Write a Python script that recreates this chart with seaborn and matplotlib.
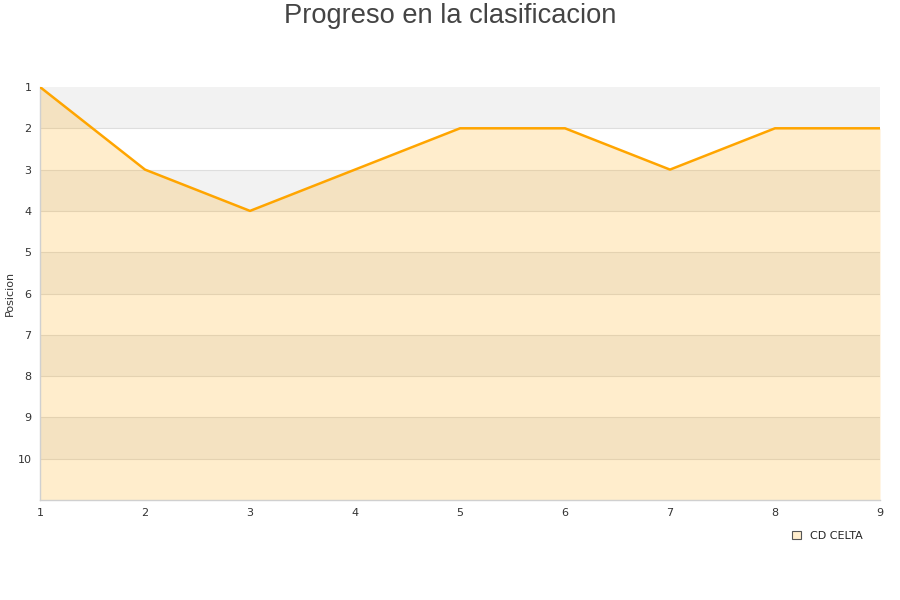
import numpy as np
import pandas as pd
import matplotlib
matplotlib.use("Agg")
import matplotlib.pyplot as plt
from matplotlib.patches import Patch
import seaborn as sns

# ── Data ───────────────────────────────────────────────────────────────────────
jornadas = [1, 2, 3, 4, 5, 6, 7, 8, 9]
posiciones = [1, 3, 4, 3, 2, 2, 3, 2, 2]
equipo = "CD CELTA"
y_ticks = [1, 2, 3, 4, 5, 6, 7, 8, 9, 10]

df = pd.DataFrame({"Jornada": jornadas, "Posicion": posiciones})

sns.set_style("white")
plt.rcParams["font.family"] = ["DejaVu Sans"]

fig = plt.figure(figsize=(9, 6), dpi=100)
ax = fig.add_axes([40 / 900, 1 - 500 / 600, 840 / 900, 413 / 600])

# alternating bands
for y0 in range(1, 11, 2):
    ax.axhspan(y0, y0 + 1, color="#f2f2f2", zorder=0, lw=0)
for y in range(2, 11):
    ax.axhline(y, color="#dedede", lw=0.8, zorder=0.5)

ax.fill_between(df["Jornada"], df["Posicion"], 11, color="#ffa500",
                alpha=0.2, lw=0, zorder=1)
sns.lineplot(data=df, x="Jornada", y="Posicion", ax=ax, color="#ffa500",
             lw=1.8, zorder=3, legend=False)

ax.set_xlim(1, 9)
ax.set_ylim(11, 1)
ax.set_xticks(jornadas)
ax.set_yticks(y_ticks)
ax.tick_params(axis="both", labelsize=8, colors="#333333", length=0, pad=6)
ax.set_xlabel("")
ax.set_ylabel("Posicion", fontsize=8, color="#333333")
ax.yaxis.set_label_coords(-25 / 840, 0.5)

for side in ["top", "right"]:
    ax.spines[side].set_visible(False)
for side in ["left", "bottom"]:
    ax.spines[side].set_color("#d0d0d0")
    ax.spines[side].set_linewidth(1)

fig.text(0.5, 1 - 16 / 600, "Progreso en la clasificacion", fontsize=19.6,
         color="#444444", ha="center", va="center",
         family=["Liberation Sans", "DejaVu Sans"])

handle = Patch(facecolor="#ffedcc", edgecolor="#555555", lw=0.8)
fig.legend([handle], [equipo], loc="center left",
           bbox_to_anchor=(782 / 900, 1 - 536 / 600), frameon=False,
           fontsize=8, handlelength=0.8, handleheight=0.8, handletextpad=0.8)

fig.savefig("out.png", dpi=100)
